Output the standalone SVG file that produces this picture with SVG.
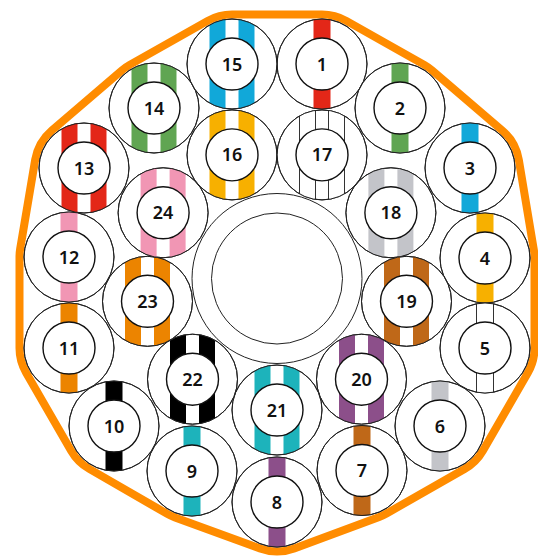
<svg xmlns="http://www.w3.org/2000/svg" width="538" height="556" viewBox="0 0 538 556">
<style>
.o{fill:#fff;stroke:#222;stroke-width:1}
.r{fill:none;stroke:#222;stroke-width:1}
.i{fill:#fff;stroke:#111;stroke-width:1.4}
.t{font-family:"Noto Sans","Liberation Sans",sans-serif;font-size:18px;font-weight:600;text-anchor:middle;fill:#111}
.w{fill:#fff;stroke:#333;stroke-width:1}
.sheath{fill:none;stroke:#FF8C00;stroke-width:8;stroke-linejoin:round}
</style>
<defs>
<clipPath id="c"><circle r="45"/></clipPath>
</defs>
<rect width="538" height="556" fill="#fff"/>
<g id="sheath">
<path class="sheath" d="M232,14.5 L322,14.5 A49.5,49.5 0 0 1 346.32,20.89 L424.32,64.89 A49.5,49.5 0 0 1 432.21,70.42 L502.21,130.42 A49.5,49.5 0 0 1 518.83,159.86 L533.83,249.86 A49.5,49.5 0 0 1 534.5,258 L534.5,348 A49.5,49.5 0 0 1 527.88,372.74 L482.88,450.74 A49.5,49.5 0 0 1 464.53,469 L386.53,513.5 A49.5,49.5 0 0 1 379.2,516.92 L294.2,548.42 A49.5,49.5 0 0 1 260.04,548.5 L175.04,517.5 A49.5,49.5 0 0 1 167.26,513.88 L89.26,468.88 A49.5,49.5 0 0 1 71.12,450.74 L26.12,372.74 A49.5,49.5 0 0 1 19.5,348 L19.5,257 A49.5,49.5 0 0 1 20.19,248.77 L35.19,159.77 A49.5,49.5 0 0 1 51.79,130.42 L121.79,70.42 A49.5,49.5 0 0 1 129.68,64.89 L207.68,20.89 A49.5,49.5 0 0 1 232,14.5 Z"/>
</g>
<g id="center">
<circle class="o" cx="277" cy="278.5" r="85"/>
<circle class="o" cx="277" cy="278.5" r="65.5"/>
</g>
<g id="fiber-1" transform="translate(322,64)"><circle class="o" r="45"/><g clip-path="url(#c)"><rect x="-8.5" y="-46" width="17" height="92" fill="#E32718"/></g><circle class="r" r="45"/><circle class="i" r="26"/><text class="t" y="6.5">1</text></g>
<g id="fiber-2" transform="translate(400,108)"><circle class="o" r="45"/><g clip-path="url(#c)"><rect x="-8.5" y="-46" width="17" height="92" fill="#60A552"/></g><circle class="r" r="45"/><circle class="i" r="26"/><text class="t" y="6.5">2</text></g>
<g id="fiber-3" transform="translate(470,168)"><circle class="o" r="45"/><g clip-path="url(#c)"><rect x="-8.5" y="-46" width="17" height="92" fill="#11A8D9"/></g><circle class="r" r="45"/><circle class="i" r="26"/><text class="t" y="6.5">3</text></g>
<g id="fiber-4" transform="translate(485,258)"><circle class="o" r="45"/><g clip-path="url(#c)"><rect x="-8.5" y="-46" width="17" height="92" fill="#F7B000"/></g><circle class="r" r="45"/><circle class="i" r="26"/><text class="t" y="6.5">4</text></g>
<g id="fiber-5" transform="translate(485,348)"><circle class="o" r="45"/><g clip-path="url(#c)"><rect class="w" x="-8.5" y="-46" width="17" height="92"/></g><circle class="r" r="45"/><circle class="i" r="26"/><text class="t" y="6.5">5</text></g>
<g id="fiber-6" transform="translate(440,426)"><circle class="o" r="45"/><g clip-path="url(#c)"><rect x="-8.5" y="-46" width="17" height="92" fill="#C3C4C9"/></g><circle class="r" r="45"/><circle class="i" r="26"/><text class="t" y="6.5">6</text></g>
<g id="fiber-7" transform="translate(362,470.5)"><circle class="o" r="45"/><g clip-path="url(#c)"><rect x="-8.5" y="-46" width="17" height="92" fill="#BF6818"/></g><circle class="r" r="45"/><circle class="i" r="26"/><text class="t" y="6.5">7</text></g>
<g id="fiber-8" transform="translate(277,502)"><circle class="o" r="45"/><g clip-path="url(#c)"><rect x="-8.5" y="-46" width="17" height="92" fill="#8C4F8A"/></g><circle class="r" r="45"/><circle class="i" r="26"/><text class="t" y="6.5">8</text></g>
<g id="fiber-9" transform="translate(192,471)"><circle class="o" r="45"/><g clip-path="url(#c)"><rect x="-8.5" y="-46" width="17" height="92" fill="#1DB3BB"/></g><circle class="r" r="45"/><circle class="i" r="26"/><text class="t" y="6.5">9</text></g>
<g id="fiber-10" transform="translate(114,426)"><circle class="o" r="45"/><g clip-path="url(#c)"><rect x="-8.5" y="-46" width="17" height="92" fill="#000"/></g><circle class="r" r="45"/><circle class="i" r="26"/><text class="t" y="6.5">10</text></g>
<g id="fiber-11" transform="translate(69,348)"><circle class="o" r="45"/><g clip-path="url(#c)"><rect x="-8.5" y="-46" width="17" height="92" fill="#EC8400"/></g><circle class="r" r="45"/><circle class="i" r="26"/><text class="t" y="6.5">11</text></g>
<g id="fiber-12" transform="translate(69,257)"><circle class="o" r="45"/><g clip-path="url(#c)"><rect x="-8.5" y="-46" width="17" height="92" fill="#F196B4"/></g><circle class="r" r="45"/><circle class="i" r="26"/><text class="t" y="6.5">12</text></g>
<g id="fiber-13" transform="translate(84,168)"><circle class="o" r="45"/><g clip-path="url(#c)" fill="#E32718"><rect x="-22.5" y="-46" width="16" height="92"/><rect x="6.5" y="-46" width="16" height="92"/></g><circle class="r" r="45"/><circle class="i" r="26"/><text class="t" y="6.5">13</text></g>
<g id="fiber-14" transform="translate(154,108)"><circle class="o" r="45"/><g clip-path="url(#c)" fill="#60A552"><rect x="-22.5" y="-46" width="16" height="92"/><rect x="6.5" y="-46" width="16" height="92"/></g><circle class="r" r="45"/><circle class="i" r="26"/><text class="t" y="6.5">14</text></g>
<g id="fiber-15" transform="translate(232,64)"><circle class="o" r="45"/><g clip-path="url(#c)" fill="#11A8D9"><rect x="-22.5" y="-46" width="16" height="92"/><rect x="6.5" y="-46" width="16" height="92"/></g><circle class="r" r="45"/><circle class="i" r="26"/><text class="t" y="6.5">15</text></g>
<g id="fiber-16" transform="translate(232,154.9)"><circle class="o" r="45"/><g clip-path="url(#c)" fill="#F7B000"><rect x="-22.5" y="-46" width="16" height="92"/><rect x="6.5" y="-46" width="16" height="92"/></g><circle class="r" r="45"/><circle class="i" r="26"/><text class="t" y="6.5">16</text></g>
<g id="fiber-17" transform="translate(322,154.9)"><circle class="o" r="45"/><g clip-path="url(#c)"><rect class="w" x="-22.5" y="-46" width="16" height="92"/><rect class="w" x="6.5" y="-46" width="16" height="92"/></g><circle class="r" r="45"/><circle class="i" r="26"/><text class="t" y="6.5">17</text></g>
<g id="fiber-18" transform="translate(390.9,212.75)"><circle class="o" r="45"/><g clip-path="url(#c)" fill="#C3C4C9"><rect x="-22.5" y="-46" width="16" height="92"/><rect x="6.5" y="-46" width="16" height="92"/></g><circle class="r" r="45"/><circle class="i" r="26"/><text class="t" y="6.5">18</text></g>
<g id="fiber-19" transform="translate(406.5,301.3)"><circle class="o" r="45"/><g clip-path="url(#c)" fill="#BF6818"><rect x="-22.5" y="-46" width="16" height="92"/><rect x="6.5" y="-46" width="16" height="92"/></g><circle class="r" r="45"/><circle class="i" r="26"/><text class="t" y="6.5">19</text></g>
<g id="fiber-20" transform="translate(361.5,379.2)"><circle class="o" r="45"/><g clip-path="url(#c)" fill="#8C4F8A"><rect x="-22.5" y="-46" width="16" height="92"/><rect x="6.5" y="-46" width="16" height="92"/></g><circle class="r" r="45"/><circle class="i" r="26"/><text class="t" y="6.5">20</text></g>
<g id="fiber-21" transform="translate(277,410)"><circle class="o" r="45"/><g clip-path="url(#c)" fill="#1DB3BB"><rect x="-22.5" y="-46" width="16" height="92"/><rect x="6.5" y="-46" width="16" height="92"/></g><circle class="r" r="45"/><circle class="i" r="26"/><text class="t" y="6.5">21</text></g>
<g id="fiber-22" transform="translate(192.5,379.2)"><circle class="o" r="45"/><g clip-path="url(#c)" fill="#000"><rect x="-22.5" y="-46" width="16" height="92"/><rect x="6.5" y="-46" width="16" height="92"/></g><circle class="r" r="45"/><circle class="i" r="26"/><text class="t" y="6.5">22</text></g>
<g id="fiber-23" transform="translate(147.5,301.3)"><circle class="o" r="45"/><g clip-path="url(#c)" fill="#EC8400"><rect x="-22.5" y="-46" width="16" height="92"/><rect x="6.5" y="-46" width="16" height="92"/></g><circle class="r" r="45"/><circle class="i" r="26"/><text class="t" y="6.5">23</text></g>
<g id="fiber-24" transform="translate(163.1,212.75)"><circle class="o" r="45"/><g clip-path="url(#c)" fill="#F196B4"><rect x="-22.5" y="-46" width="16" height="92"/><rect x="6.5" y="-46" width="16" height="92"/></g><circle class="r" r="45"/><circle class="i" r="26"/><text class="t" y="6.5">24</text></g>
</svg>
